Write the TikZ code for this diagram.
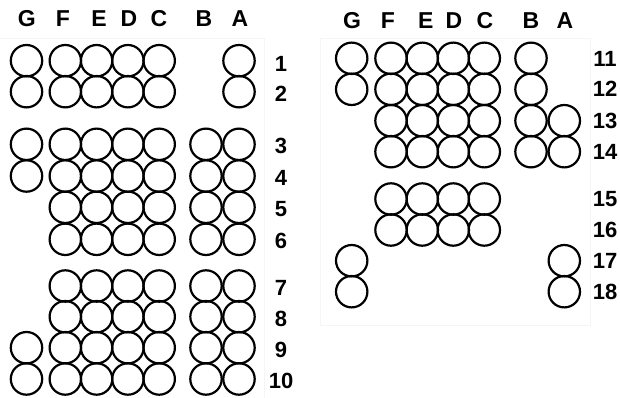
\documentclass[tikz,border=0pt]{standalone}
\usepackage{fontspec}
\setmainfont{Liberation Sans}
\usepackage{xcolor}
\usepackage{tikz}
\usetikzlibrary{positioning}

\tikzset{
    well/.style={circle, draw, line width=2.2pt, minimum size=31.4pt, inner sep=0pt},
    hdr/.style={font=\fontsize{23}{23}\selectfont\bfseries, inner sep=0pt},
    lbl/.style={font=\fontsize{22}{22}\selectfont\bfseries, inner sep=0pt},
    frame/.style={draw=black!4, line width=0.8pt}
}

\begin{document}
\begin{tikzpicture}[x=1pt, y=-1pt]
    \useasboundingbox (0,0) rectangle (620,398);

    % faint panel frames
    \draw[frame] (0,38) -- (264,38) -- (264,398);
    \draw[frame] (320,38) rectangle (590,325);

    % ---------------- left panel ----------------
    % column letters
    \node[hdr] (lG) at (26.7,18.7) {G};
    \node[hdr] (lF) at (63,18.7) {F};
    \node[hdr] (lE) at (99,18.7) {E};
    \node[hdr] (lD) at (129,18.7) {D};
    \node[hdr] (lC) at (159,18.7) {C};
    \node[hdr] (lB) at (204,18.7) {B};
    \node[hdr] (lA) at (240,18.7) {A};

    % rows 1-2: no B
    \foreach \r/\y in {1/60.7, 2/91.7}
        \foreach \c/\x in {G/26.5, F/65.3, E/96.6, D/127.9, C/159.2, A/239}
            \node[well] (w\r\c) at (\x,\y) {};

    % rows 3-4 and 9-10: full
    \foreach \r/\y in {3/144.3, 4/176, 9/347.7, 10/379}
        \foreach \c/\x in {G/26.5, F/65.3, E/96.6, D/127.9, C/159.2, B/206, A/239}
            \node[well] (w\r\c) at (\x,\y) {};

    % rows 5-8: no G
    \foreach \r/\y in {5/207.3, 6/239.3, 7/286, 8/316.7}
        \foreach \c/\x in {F/65.3, E/96.6, D/127.9, C/159.2, B/206, A/239}
            \node[well] (w\r\c) at (\x,\y) {};

    % row numbers
    \foreach \r/\y in {1/64, 2/94, 3/146, 4/178, 5/209, 6/241, 7/288, 8/319, 9/350, 10/381}
        \node[lbl] (n\r) at (281,\y) {\r};

    % ---------------- right panel ----------------
    \node[hdr] (rG) at (352,21) {G};
    \node[hdr] (rF) at (388,21) {F};
    \node[hdr] (rE) at (425.7,21) {E};
    \node[hdr] (rD) at (454,21) {D};
    \node[hdr] (rC) at (485,21) {C};
    \node[hdr] (rB) at (531,21) {B};
    \node[hdr] (rA) at (565,21) {A};

    % rows 11-12: no A
    \foreach \r/\y in {11/58.3, 12/89.3}
        \foreach \c/\x in {G/351.7, F/391, E/422.3, D/453.3, C/484.3, B/531}
            \node[well] (w\r\c) at (\x,\y) {};

    % rows 13-14: no G
    \foreach \r/\y in {13/120.7, 14/151.7}
        \foreach \c/\x in {F/391, E/422.3, D/453.3, C/484.3, B/531, A/564.3}
            \node[well] (w\r\c) at (\x,\y) {};

    % rows 15-16: F to C only
    \foreach \r/\y in {15/199, 16/230}
        \foreach \c/\x in {F/391, E/422.3, D/453.3, C/484.3}
            \node[well] (w\r\c) at (\x,\y) {};

    % rows 17-18: G and A only
    \foreach \r/\y in {17/260.7, 18/291.7}
        \foreach \c/\x in {G/351.7, A/564.3}
            \node[well] (w\r\c) at (\x,\y) {};

    % row numbers
    \foreach \r/\y in {11/59, 12/89, 13/121, 14/152, 15/199, 16/230, 17/261, 18/292}
        \node[lbl] (n\r) at (605,\y) {\r};
\end{tikzpicture}
\end{document}
